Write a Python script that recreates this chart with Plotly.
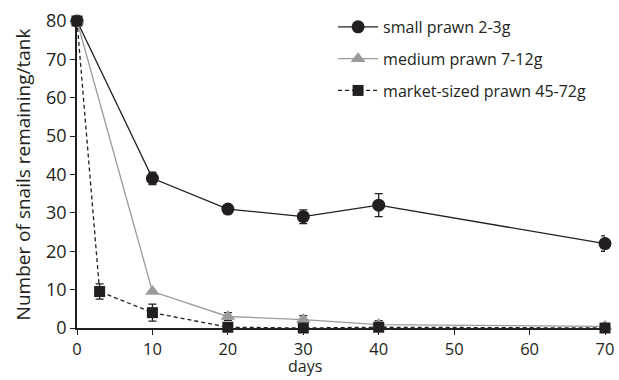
import plotly.graph_objects as go

days_small = [0, 10, 20, 30, 40, 70]
small = [80, 39, 31, 29, 32, 22]
small_err = [0, 1.6, 0.7, 1.8, 3, 2]

days_medium = [0, 10, 20, 30, 40, 70]
medium = [80, 9.5, 3, 2.2, 0.9, 0.4]
medium_err = [0, 0, 1, 1, 1, 0]

days_market = [0, 3, 10, 20, 30, 40, 70]
market = [80, 9.5, 4, 0.2, 0, 0.2, 0]
market_err = [0, 2, 2.2, 0, 0, 1.2, 0]

ink = "#231f20"
grey = "#9a9a9a"
font = "Open Sans"

fig = go.Figure()
fig.add_trace(go.Scatter(
    x=days_small, y=small, name="small prawn 2-3g", mode="lines+markers",
    legendgroup="a",
    line=dict(color=ink, width=1.3),
    marker=dict(symbol="circle", size=13, color=ink),
    error_y=dict(type="data", array=small_err, color=ink, thickness=1.3, width=4),
    cliponaxis=False))
fig.add_trace(go.Scatter(
    x=days_medium, y=medium, name="medium prawn 7-12g", mode="lines+markers",
    legendgroup="b",
    line=dict(color=grey, width=1.3),
    marker=dict(symbol="triangle-up", size=13, color=grey),
    error_y=dict(type="data", array=medium_err, color=ink, thickness=1.3, width=4),
    cliponaxis=False))
fig.add_trace(go.Scatter(
    x=days_market, y=market, name="market-sized prawn 45-72g", mode="lines+markers",
    legendgroup="c",
    line=dict(color=ink, width=1.3, dash="4px,3px"),
    marker=dict(symbol="square", size=11, color=ink),
    error_y=dict(type="data", array=market_err, color=ink, thickness=1.3, width=4),
    cliponaxis=False))

fig.add_annotation(text="days", xref="x", yref="paper", x=30.2, y=-0.166,
                   xanchor="center", yanchor="bottom", showarrow=False,
                   font=dict(size=16, family=font, color=ink))

fig.update_layout(
    width=619, height=380,
    margin=dict(l=77, r=14, t=21, b=52, autoexpand=False),
    paper_bgcolor="white", plot_bgcolor="white",
    font=dict(family=font, color=ink, size=16),
    showlegend=True,
    legend=dict(x=0.485, y=1.036, xanchor="left", yanchor="top",
                font=dict(size=16, family=font, color=ink),
                itemwidth=40, tracegroupgap=8, bgcolor="rgba(0,0,0,0)"),
    xaxis=dict(range=[0, 70], tickvals=[0, 10, 20, 30, 40, 50, 60, 70],
               showgrid=False, zeroline=False, showline=True, linecolor=ink, linewidth=1.5,
               ticks="outside", ticklen=5, tickcolor=ink, tickwidth=1.2,
               tickfont=dict(size=16.5), ticklabeloverflow="allow"),
    yaxis=dict(range=[0, 80], tickvals=[0, 10, 20, 30, 40, 50, 60, 70, 80],
               showgrid=False, zeroline=False, showline=True, linecolor=ink, linewidth=1.5,
               ticks="outside", ticklen=5, tickcolor=ink, tickwidth=1.2,
               tickfont=dict(size=18),
               title=dict(text="Number of snails remaining/tank", font=dict(size=19), standoff=10)),
)

fig.write_html("out.html", config={"displayModeBar": False},
               post_script="document.body.style.margin='0';document.body.style.overflow='hidden';")
